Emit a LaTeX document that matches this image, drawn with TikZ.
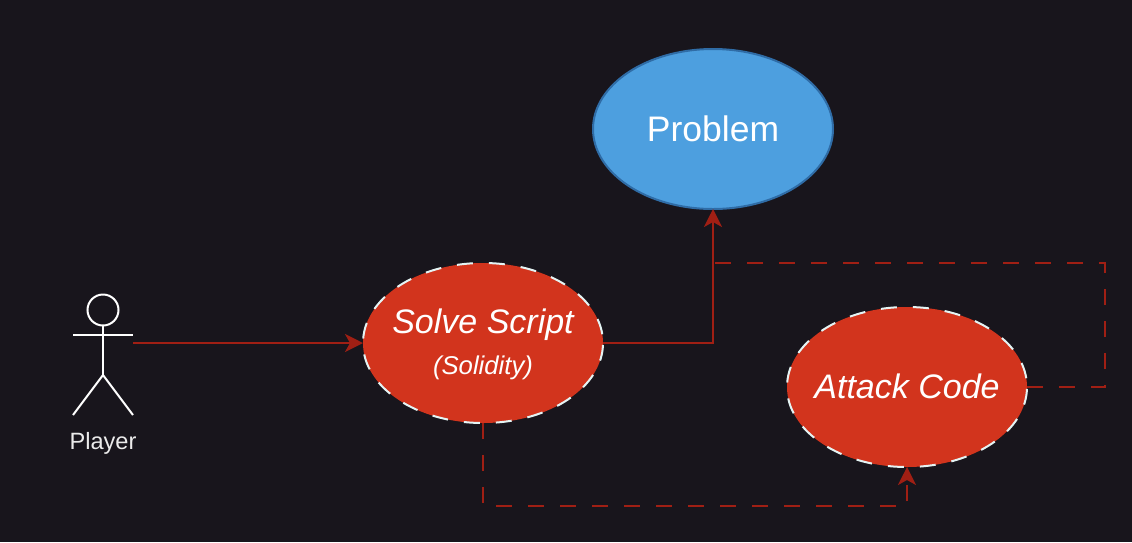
\documentclass[tikz,border=0pt]{standalone}
\usepackage{fontspec}
\setmainfont{Liberation Sans}
\usetikzlibrary{arrows.meta,shapes.geometric}
\definecolor{bgc}{HTML}{18151C}
\definecolor{redfill}{HTML}{D2341D}
\definecolor{linkred}{HTML}{A01F14}
\definecolor{bluefill}{HTML}{4D9FDF}
\definecolor{blueline}{HTML}{2F6CA6}
\definecolor{dashwhite}{HTML}{E4F4F4}
\newcommand{\zerow}[1]{\makebox[0pt][c]{#1}}
\tikzset{
  usecase/.style={ellipse,minimum width=240pt,minimum height=160pt,inner sep=0pt,outer sep=0pt,text=white,align=center},
  attackcase/.style={usecase,fill=redfill,draw=dashwhite,line width=2pt,dash pattern=on 16pt off 16pt,dash phase=23.2pt},
  problemcase/.style={usecase,fill=bluefill,draw=blueline,line width=2pt},
  link/.style={draw=linkred,line width=2pt},
  linktip/.style={link,-{Stealth[length=18pt,width=18pt,inset=5pt,fill=linkred]}},
  dashlink/.style={dash pattern=on 16pt off 16pt},
  stick/.style={draw=white,line width=2pt}
}
\begin{document}
\begin{tikzpicture}[x=1pt,y=-1pt]
\useasboundingbox (0,0) rectangle (1132,542);
\fill[bgc] (0,0) rectangle (1132,542);
\node[problemcase] (problem) at (713,129) {\zerow{\fontsize{35.5}{40}\selectfont Problem}};
\node[attackcase] (solve) at (483,343) {\zerow{\rule{0pt}{27pt}\fontsize{34}{40}\selectfont\itshape Solve Script}\\[14pt]\zerow{\fontsize{25.7}{30}\selectfont\itshape (Solidity)}};
\node[attackcase] (attack) at (907,387) {\zerow{\rule[-2.5pt]{0pt}{1pt}\fontsize{34}{40}\selectfont\itshape Attack Code}};
% actor
\node[stick,circle,minimum size=31pt,inner sep=0pt,outer sep=0pt] (head) at (103,310) {};
\coordinate (hip) at (103,375);
\coordinate (armL) at (73,335);
\coordinate (armR) at (133,335);
\coordinate (footL) at (73,415);
\coordinate (footR) at (133,415);
\coordinate (port) at (133,343);
\draw[stick] (head.south) -- (hip);
\draw[stick] (armL) -- (armR);
\draw[stick] (footL) -- (hip) -- (footR);
\node[text=white!92!black,inner sep=0pt] (player) at (103,443) {\fontsize{23.6}{28}\selectfont Player};
% connectors
\coordinate (bendA) at (713,343);
\coordinate (bendB) at (713,263);
\coordinate (bendC) at (1105,263);
\coordinate (bendD) at (1105,387);
\coordinate (bendE) at (483,506);
\coordinate (bendF) at (907,506);
\draw[linktip] (port) -- (solve.west);
\draw[linktip,dashlink] (solve.south) -- (bendE) -- (bendF) -- (attack.south);
\draw[link,dashlink] (attack.east) -- (bendD) -- (bendC) -- (bendB);
\draw[linktip] (solve.east) -- (bendA) -- (problem.south);
\end{tikzpicture}
\end{document}
